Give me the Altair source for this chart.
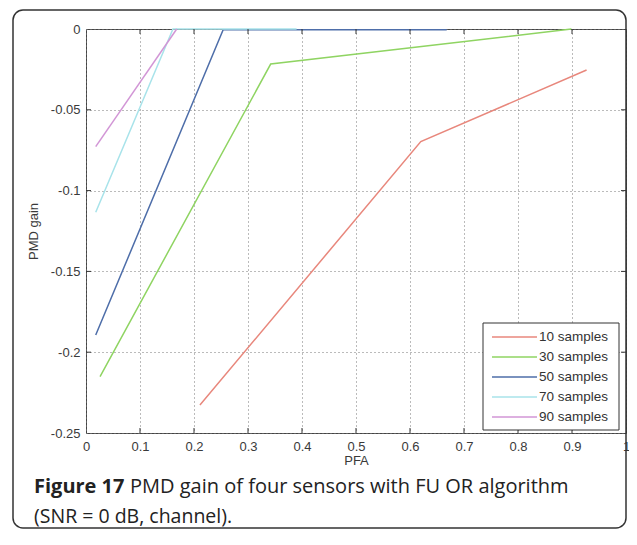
import altair as alt
import pandas as pd

# ---- data ----
labels = ["10 samples", "30 samples", "50 samples", "70 samples", "90 samples"]
colors = ["#e8877c", "#8fd462", "#4e6ea9", "#a8e3ea", "#d296d6"]

pfa_10 = [0.211, 0.620, 0.927]
gain_10 = [-0.2327, -0.0697, -0.0254]
pfa_30 = [0.026, 0.342, 0.899]
gain_30 = [-0.2151, -0.0217, 0.0]
pfa_50 = [0.018, 0.254, 0.668]
gain_50 = [-0.1894, -0.0005, -0.0005]
pfa_70 = [0.018, 0.161, 0.390]
gain_70 = [-0.1134, 0.0, 0.0]
pfa_90 = [0.018, 0.168]
gain_90 = [-0.0728, 0.0]

x_ticks = [0, 0.1, 0.2, 0.3, 0.4, 0.5, 0.6, 0.7, 0.8, 0.9, 1]
y_ticks = [-0.25, -0.2, -0.15, -0.1, -0.05, 0]

caption_bold = "Figure 17"
caption_1 = "PMD gain of four sensors with FU OR algorithm"
caption_2 = "(SNR = 0 dB, channel)."

# ---- table ----
rows = []
for lab, xs, ys in zip(labels, [pfa_10, pfa_30, pfa_50, pfa_70, pfa_90],
                       [gain_10, gain_30, gain_50, gain_70, gain_90]):
    for i, (a, b) in enumerate(zip(xs, ys)):
        rows.append({"x": a, "y": b, "series": lab, "i": i})
df = pd.DataFrame(rows)

W, H = 540, 404
FONT = "Liberation Sans"
LBL = "#3a3a3a"

xs_scale = alt.Scale(domain=[0, 1], nice=False, zero=False)
ys_scale = alt.Scale(domain=[-0.25, 0], nice=False, zero=False)

x_axis = alt.Axis(values=x_ticks, labelExpr="format(datum.value, '~g')",
                  grid=True, gridDash=[1, 3], gridColor="#777", gridWidth=1,
                  ticks=False, domain=False, labelFlush=False, labelOverlap=False,
                  labelPadding=7, labelFont=FONT, labelFontSize=13, labelColor=LBL,
                  title="PFA", titleFont=FONT, titleFontSize=13, titleFontWeight="normal",
                  titleColor=LBL, titleX=W / 2, titleY=27, titleAlign="center",
                  titleBaseline="middle")
y_axis = alt.Axis(values=y_ticks,
                  labelExpr="datum.value == 0 ? '0' : '-' + format(-datum.value, '~g')",
                  grid=True, gridDash=[1, 3], gridColor="#777", gridWidth=1,
                  ticks=False, domain=False, labelFlush=False, labelOverlap=False,
                  labelPadding=6, labelFont=FONT, labelFontSize=13, labelColor=LBL,
                  title="PMD gain", titleFont=FONT, titleFontSize=13,
                  titleFontWeight="normal", titleColor=LBL, titleX=-53, titleY=H / 2,
                  titleAngle=270, titleAlign="center", titleBaseline="middle")

x_enc = alt.X("x:Q", scale=xs_scale, axis=x_axis, title="PFA")
y_enc = alt.Y("y:Q", scale=ys_scale, axis=y_axis, title="PMD gain")

# outer rounded frame
frame = alt.Chart(pd.DataFrame({"k": [0]})).mark_rect(
    fillOpacity=0, stroke="#333", strokeWidth=1.5, cornerRadius=10
).encode(x=alt.value(-73), x2=alt.value(540), y=alt.value(-19), y2=alt.value(499))

lines = alt.Chart(df).mark_line(strokeWidth=1.5).encode(
    x=x_enc, y=y_enc,
    color=alt.Color("series:N", scale=alt.Scale(domain=labels, range=colors), legend=None),
    order="i:Q",
)

tick_color = "#333"
xt = pd.DataFrame({"x": x_ticks[1:-1]})
yt = pd.DataFrame({"y": y_ticks[1:-1]})
xt_bottom = alt.Chart(xt).mark_rule(color=tick_color).encode(x=x_enc, y=alt.value(H), y2=alt.value(H - 5))
xt_top = alt.Chart(xt).mark_rule(color=tick_color).encode(x=x_enc, y=alt.value(0), y2=alt.value(5))
yt_left = alt.Chart(yt).mark_rule(color=tick_color).encode(y=y_enc, x=alt.value(0), x2=alt.value(5))
yt_right = alt.Chart(yt).mark_rule(color=tick_color).encode(y=y_enc, x=alt.value(W), x2=alt.value(W - 5))

# legend box
leg_box = alt.Chart(pd.DataFrame({"k": [0]})).mark_rect(
    fill="white", stroke="#333", strokeWidth=1
).encode(x=alt.value(397), x2=alt.value(533), y=alt.value(294), y2=alt.value(401))
leg_layers = [leg_box]
for i, (lab, col) in enumerate(zip(labels, colors)):
    yy = 308 + 20 * i
    leg_layers.append(alt.Chart(pd.DataFrame({"t": [lab]})).mark_rule(color=col, strokeWidth=1.5)
                      .encode(x=alt.value(406), x2=alt.value(451), y=alt.value(yy)))
    leg_layers.append(alt.Chart(pd.DataFrame({"t": [lab]})).mark_text(
        align="left", baseline="middle", font=FONT, fontSize=13.5, color="#333")
        .encode(text="t:N", x=alt.value(453), y=alt.value(yy)))

cap_b = alt.Chart(pd.DataFrame({"t": [caption_bold]})).mark_text(
    align="left", baseline="middle", font="Open Sans", fontSize=20, fontWeight="bold", color="#222"
).encode(text="t:N", x=alt.value(-52), y=alt.value(458))
cap_1 = alt.Chart(pd.DataFrame({"t": [caption_1]})).mark_text(
    align="left", baseline="middle", font="Open Sans", fontSize=20, color="#222"
).encode(text="t:N", x=alt.value(44), y=alt.value(458))
cap_2 = alt.Chart(pd.DataFrame({"t": [caption_2]})).mark_text(
    align="left", baseline="middle", font="Open Sans", fontSize=19.5, color="#222"
).encode(text="t:N", x=alt.value(-52), y=alt.value(488))

chart = alt.layer(
    frame, lines, xt_bottom, xt_top, yt_left, yt_right, *leg_layers, cap_b, cap_1, cap_2
).properties(
    width=W, height=H,
    autosize=alt.AutoSizeParams(type="none"),
    padding={"left": 78, "top": 21, "right": 3, "bottom": 97},
    background="white",
).configure_view(stroke="#444", strokeWidth=1)

chart.save("out.html", embed_options={"renderer": "svg", "actions": False})
